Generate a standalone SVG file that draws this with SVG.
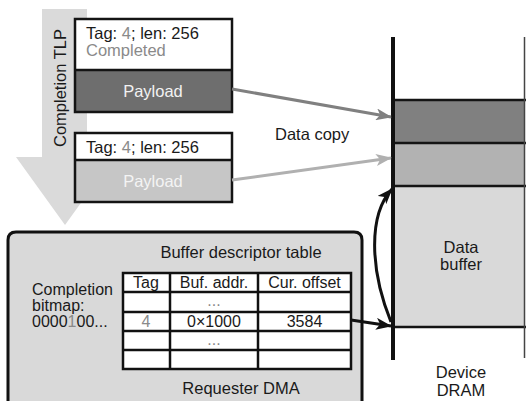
<svg xmlns="http://www.w3.org/2000/svg" width="526" height="401" viewBox="0 0 526 401">
  <style>
    text { font-family: "Liberation Sans", Arial, Helvetica, sans-serif; font-size: 16.5px; fill: #1a1a1a; }
    .tbl { font-size: 16px; }
    .mid { text-anchor: middle; }
    .gray { fill: #8a8a8a; }
    .box { stroke: #141414; stroke-width: 2.5; }
    .sep { stroke: #141414; stroke-width: 2.5; }
  </style>
  <defs>
    <marker id="ahDark" markerUnits="userSpaceOnUse" markerWidth="16" markerHeight="12" refX="15" refY="6" orient="auto">
      <path d="M0,0 L16,6 L0,12 L4,6 z" fill="#808080"/>
    </marker>
    <marker id="ahLight" markerUnits="userSpaceOnUse" markerWidth="16" markerHeight="12" refX="15" refY="6" orient="auto">
      <path d="M0,0 L16,6 L0,12 L4,6 z" fill="#b0b0b0"/>
    </marker>
    <marker id="ahBlack" markerUnits="userSpaceOnUse" markerWidth="16" markerHeight="12" refX="15" refY="6" orient="auto">
      <path d="M0,0 L16,6 L0,12 L4,6 z" fill="#111"/>
    </marker>
  </defs>

  <!-- flow arrow behind the TLPs -->
  <g id="completion-tlp-arrow">
    <polygon points="42,9 87,9 87,157 114,157 65,225 16,157 42,157" fill="#dadada"/>
    <text class="mid" transform="translate(66,88) rotate(-90)">Completion TLP</text>
  </g>

  <!-- first completion TLP -->
  <g id="tlp1">
    <rect x="75" y="19" width="157" height="51" fill="#fff"/>
    <rect x="75" y="70" width="157" height="42" fill="#6e6e6e"/>
    <rect x="75" y="19" width="157" height="93" fill="none" class="box"/>
    <line x1="75" y1="70" x2="232" y2="70" class="sep"/>
    <text x="86" y="39">Tag: <tspan class="gray">4</tspan>; len: 256</text>
    <text x="86" y="56" class="gray">Completed</text>
    <text x="153" y="97" class="mid" style="fill:#f2f2f2">Payload</text>
  </g>

  <!-- second completion TLP -->
  <g id="tlp2">
    <rect x="75" y="133" width="157" height="27" fill="#fff"/>
    <rect x="75" y="160" width="157" height="42" fill="#c6c6c6"/>
    <rect x="75" y="133" width="157" height="69" fill="none" class="box"/>
    <line x1="75" y1="160" x2="232" y2="160" class="sep"/>
    <text x="86" y="153">Tag: <tspan class="gray">4</tspan>; len: 256</text>
    <text x="153" y="187" class="mid" style="fill:#f4f4f4">Payload</text>
  </g>

  <!-- device DRAM column -->
  <g id="device-dram">
    <rect x="394" y="100" width="131" height="43" fill="#808080"/>
    <rect x="394" y="143" width="131" height="43" fill="#b2b2b2"/>
    <rect x="394" y="186" width="131" height="141" fill="#d9d9d9"/>
    <line x1="394" y1="100" x2="526" y2="100" class="sep"/>
    <line x1="394" y1="143" x2="526" y2="143" class="sep"/>
    <line x1="394" y1="186" x2="526" y2="186" class="sep"/>
    <line x1="394" y1="327" x2="526" y2="327" class="sep"/>
    <line x1="524.5" y1="37" x2="524.5" y2="358" stroke="#444" stroke-width="1.5"/>
    <line x1="393" y1="37" x2="393" y2="360" stroke="#111" stroke-width="4"/>
    <text x="461" y="253" class="mid">Data</text>
    <text x="461" y="270" class="mid">buffer</text>
    <text x="461" y="378" class="mid">Device</text>
    <text x="461" y="396" class="mid">DRAM</text>
  </g>

  <!-- requester DMA engine -->
  <g id="requester-dma">
    <path d="M8,401 L8,240 Q8,232 16,232 L354,232 Q362,232 362,240 L362,401" fill="#d9d9d9" stroke="#111" stroke-width="3"/>
    <text x="241" y="258" class="mid">Buffer descriptor table</text>
    <text x="32" y="295" style="font-size:16px">Completion</text>
    <text x="32" y="311" style="font-size:16px">bitmap:</text>
    <text x="32" y="327" style="font-size:16px">0000<tspan class="gray">1</tspan>00...</text>
    <text x="241" y="394" class="mid">Requester DMA</text>
  </g>

  <!-- buffer descriptor table -->
  <g id="descriptor-table">
    <rect x="123" y="273" width="228" height="96" fill="#fff" stroke="#111" stroke-width="2.5"/>
    <g stroke="#111" stroke-width="2.5">
      <line x1="170" y1="273" x2="170" y2="369"/>
      <line x1="258" y1="273" x2="258" y2="369"/>
      <line x1="123" y1="292" x2="351" y2="292"/>
      <line x1="123" y1="312" x2="351" y2="312"/>
      <line x1="123" y1="331" x2="351" y2="331"/>
      <line x1="123" y1="350" x2="351" y2="350"/>
    </g>
    <text x="146" y="288" class="tbl mid">Tag</text>
    <text x="214" y="288" class="tbl mid">Buf. addr.</text>
    <text x="304.5" y="288" class="tbl mid">Cur. offset</text>
    <text x="214" y="306" class="tbl mid gray">...</text>
    <text x="146" y="327" class="tbl mid gray">4</text>
    <text x="214" y="327" class="tbl mid">0×1000</text>
    <text x="304.5" y="327" class="tbl mid">3584</text>
    <text x="214" y="345" class="tbl mid gray">...</text>
  </g>

  <!-- connectors -->
  <g id="connectors" fill="none">
    <line x1="232" y1="89" x2="391" y2="117" stroke="#808080" stroke-width="3" marker-end="url(#ahDark)"/>
    <line x1="232" y1="180" x2="391" y2="158" stroke="#b0b0b0" stroke-width="3" marker-end="url(#ahLight)"/>
    <line x1="351" y1="320" x2="391" y2="326" stroke="#111" stroke-width="3" marker-end="url(#ahBlack)"/>
    <path d="M391,322 C370,270 368,215 392,189" stroke="#111" stroke-width="3" marker-end="url(#ahBlack)"/>
    <text x="275" y="140" style="fill:#1a1a1a">Data copy</text>
  </g>
</svg>
